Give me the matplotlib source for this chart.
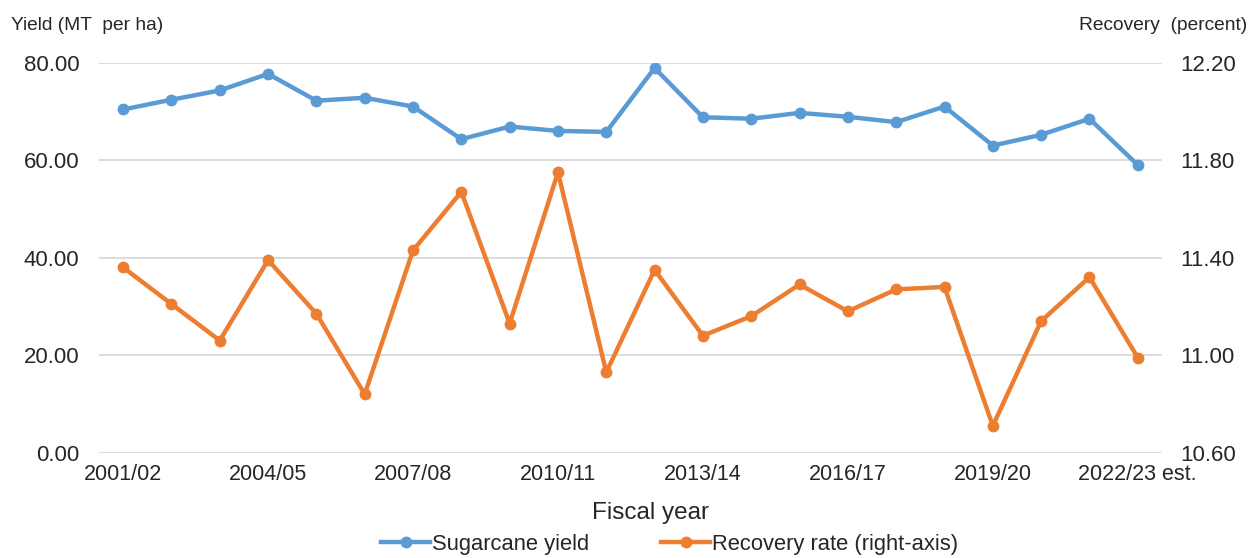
import matplotlib
matplotlib.use("Agg")
import matplotlib.pyplot as plt
from matplotlib.lines import Line2D

plt.rcParams["font.family"] = ["Liberation Sans", "DejaVu Sans"]

# Fiscal years 2001/02 .. 2022/23
years = [f"{y}/{str(y + 1)[-2:]}" for y in range(2001, 2023)]
tick_labels = ["2001/02", "2004/05", "2007/08", "2010/11",
               "2013/14", "2016/17", "2019/20", "2022/23 est."]

# Sugarcane yield, MT per ha
yield_mt = [70.4, 72.4, 74.3, 77.7, 72.2, 72.8, 71.0, 64.3, 66.9, 66.0, 65.8,
            78.9, 68.8, 68.5, 69.7, 68.9, 67.8, 71.0, 63.0, 65.2, 68.5, 59.0]
# Sugar recovery rate, percent
recovery = [11.36, 11.21, 11.06, 11.39, 11.17, 10.84, 11.43, 11.67, 11.13, 11.75, 10.93,
            11.35, 11.08, 11.16, 11.29, 11.18, 11.27, 11.28, 10.71, 11.14, 11.32, 10.99]

BLUE = "#5B9BD5"
ORANGE = "#ED7D31"
GRID = "#D9D9D9"
TXT = "#262626"

fig = plt.figure(figsize=(12.59, 5.58), dpi=100)
ax = fig.add_axes([0.0786, 0.1887, 0.8443, 0.699])
ax2 = ax.twinx()

x = list(range(len(years)))
ax.plot(x, yield_mt, color=BLUE, lw=3.2, marker="o", ms=7.5, zorder=3)
ax2.plot(x, recovery, color=ORANGE, lw=3.2, marker="o", ms=7.5, zorder=3)

ax.set_xlim(-0.5, len(years) - 0.5)
ax.set_ylim(0, 80)
ax.set_yticks([0, 20, 40, 60, 80])
ax.set_yticklabels([f"{v:.2f}" for v in [0, 20, 40, 60, 80]])
ax2.set_ylim(10.6, 12.2)
ax2.set_yticks([10.6, 11.0, 11.4, 11.8, 12.2])
ax2.set_yticklabels([f"{v:.2f}" for v in [10.6, 11.0, 11.4, 11.8, 12.2]])

ax.set_xticks(x[::3])
ax.set_xticklabels(tick_labels)

ax.grid(axis="y", color=GRID, lw=1.3)
ax.set_axisbelow(True)
for a in (ax, ax2):
    for s in a.spines.values():
        s.set_visible(False)
ax.tick_params(axis="y", length=0, pad=14, labelsize=16, labelcolor=TXT)
ax2.tick_params(axis="y", length=0, pad=13, labelsize=16, labelcolor=TXT)
ax.tick_params(axis="x", length=0, pad=8, labelsize=15.5, labelcolor=TXT)

fig.text(0.517, 0.08, "Fiscal year", fontsize=17.5, color=TXT,
         ha="center", va="center")
fig.text(0.009, 0.955, "Yield (MT  per ha)", fontsize=13.8, color=TXT, va="center")
fig.text(0.991, 0.955, "Recovery  (percent)", fontsize=13.8, color=TXT,
         va="center", ha="right")

handles = [Line2D([], [], color=BLUE, lw=3.2, marker="o", ms=7.5),
           Line2D([], [], color=ORANGE, lw=3.2, marker="o", ms=7.5)]
fig.legend(handles, ["Sugarcane yield", "Recovery rate (right-axis)"],
           loc="center", bbox_to_anchor=(0.532, 0.025), ncol=2, frameon=False,
           fontsize=15.8, handlelength=2.2, handletextpad=0.1, columnspacing=3.3,
           labelcolor=TXT)

fig.savefig("out.png", dpi=100)
